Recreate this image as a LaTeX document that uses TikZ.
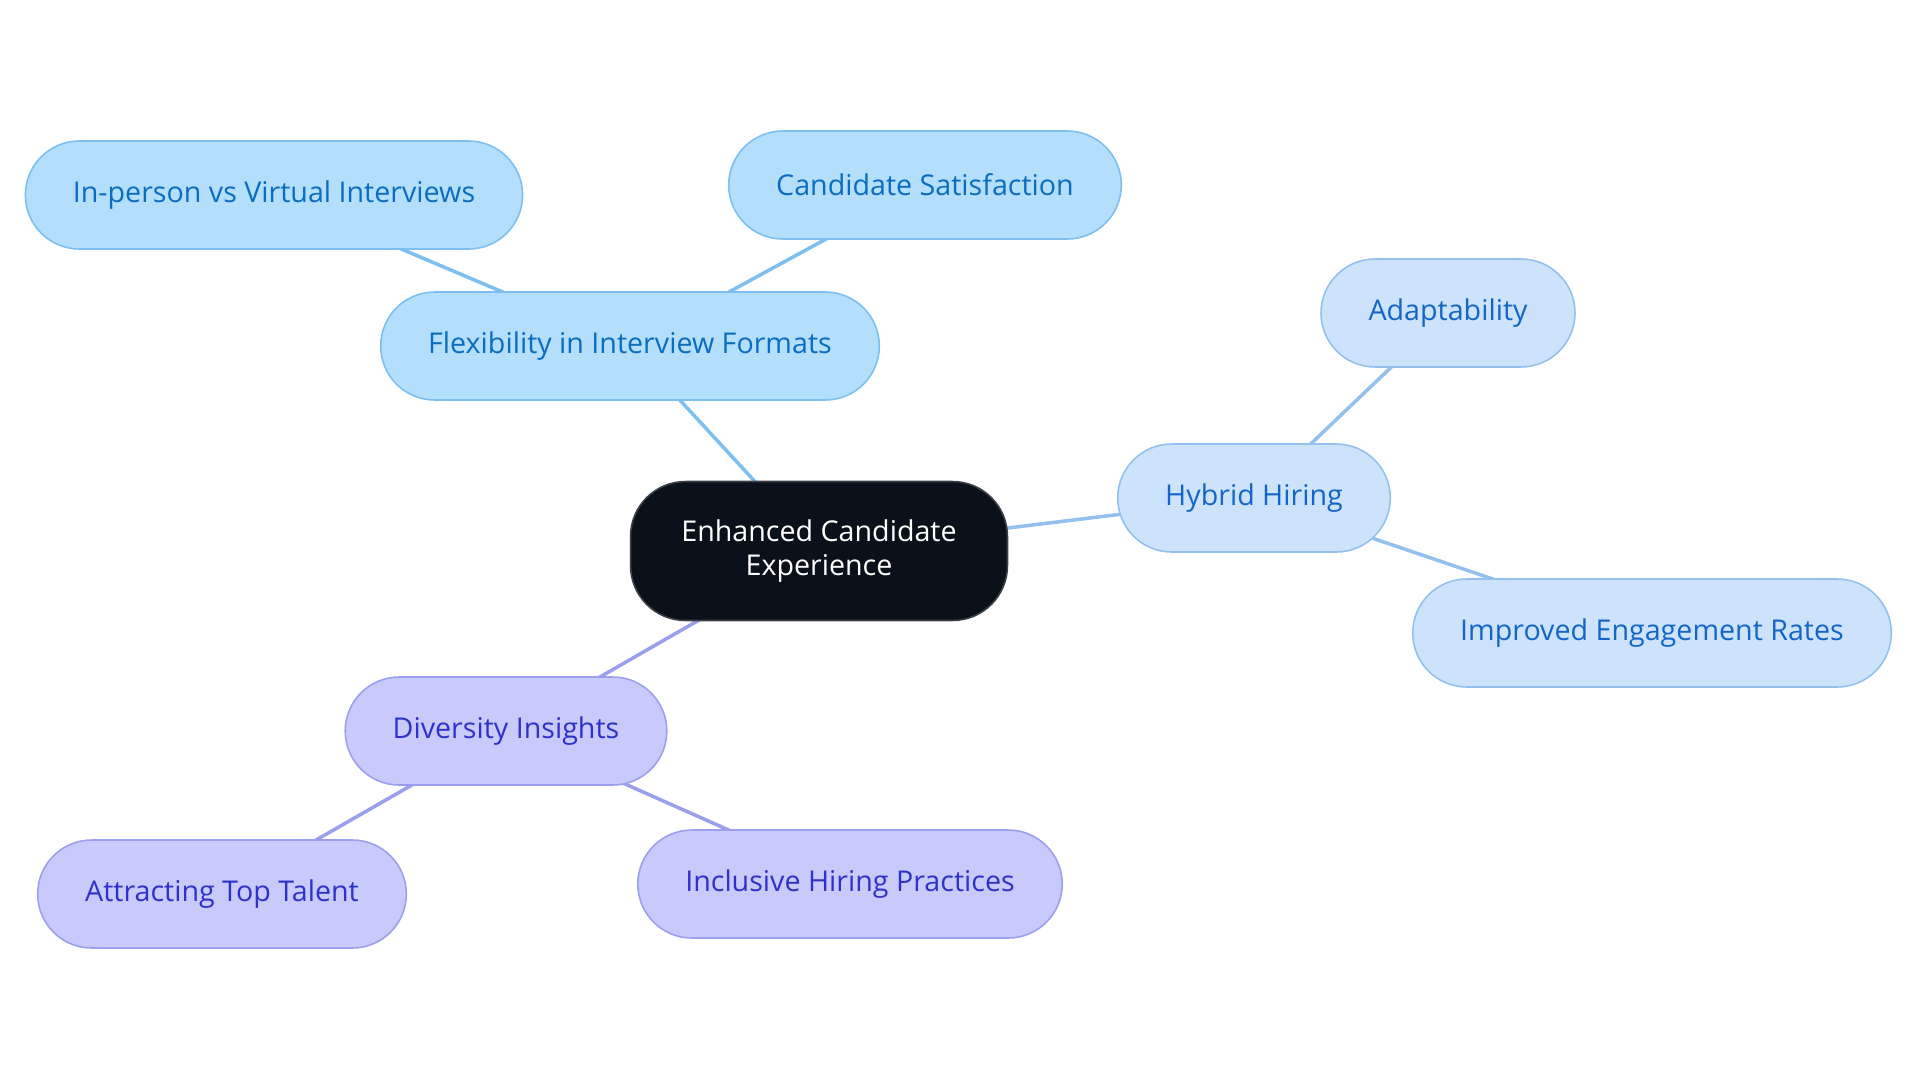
\documentclass[tikz,border=0pt]{standalone}
\usepackage{fontspec}
\setmainfont{Open Sans}
\usetikzlibrary{backgrounds}
\definecolor{rootfill}{HTML}{0B111A}
\definecolor{flexfill}{HTML}{B3DFFD}
\definecolor{flexline}{HTML}{7DBFF0}
\definecolor{flextext}{HTML}{0B6CC0}
\definecolor{hybfill}{HTML}{CCE3FB}
\definecolor{hybline}{HTML}{94C0EE}
\definecolor{hybtext}{HTML}{1565C8}
\definecolor{divfill}{HTML}{C8CAFC}
\definecolor{divline}{HTML}{9B9FEE}
\definecolor{divtext}{HTML}{2F32C8}
\tikzset{
  topic/.style={rectangle, rounded corners=1.08cm, minimum height=2.16cm,
    inner xsep=0.95cm, line width=0.9pt, font=\fontsize{16.3}{20}\selectfont},
  flexbox/.style={topic, fill=flexfill, draw=flexline, text=flextext},
  hybbox/.style={topic, fill=hybfill, draw=hybline, text=hybtext},
  divbox/.style={topic, fill=divfill, draw=divline, text=divtext},
  rootbox/.style={rectangle, rounded corners=1.1cm, minimum width=7.54cm,
    minimum height=2.78cm, fill=rootfill, draw=rootfill!80!white, line width=0.9pt,
    text=white, align=center, font=\fontsize{16.3}{19.5}\selectfont},
  link/.style={line width=2pt}
}
\begin{document}
\begin{tikzpicture}[x=0.02cm, y=-0.02cm]
  \useasboundingbox (0,0) rectangle (1920,1083);
  % centre
  \node[rootbox] (root) at (819,551) {Enhanced Candidate\\Experience};
  % flexibility branch
  \node[flexbox] (flex) at (630,346) {Flexibility in Interview Formats};
  \node[flexbox] (inperson) at (274,195) {In-person vs Virtual Interviews};
  \node[flexbox] (satis) at (925,185) {Candidate Satisfaction};
  % hybrid branch
  \node[hybbox] (hybrid) at (1254,498) {Hybrid Hiring};
  \node[hybbox] (adapt) at (1448,313) {Adaptability};
  \node[hybbox] (engage) at (1652,633) {Improved Engagement Rates};
  % diversity branch
  \node[divbox] (divers) at (506,731) {Diversity Insights};
  \node[divbox] (talent) at (222,894) {Attracting Top Talent};
  \node[divbox] (inclus) at (850,884) {Inclusive Hiring Practices};
  \begin{scope}[on background layer]
    \draw[link, flexline] (root.center) -- (flex.center);
    \draw[link, flexline] (flex.center) -- (inperson.center);
    \draw[link, flexline] (flex.center) -- (satis.center);
    \draw[link, hybline] (root.center) -- (hybrid.center);
    \draw[link, hybline] (hybrid.center) -- (adapt.center);
    \draw[link, hybline] (hybrid.center) -- (engage.center);
    \draw[link, divline] (root.center) -- (divers.center);
    \draw[link, divline] (divers.center) -- (talent.center);
    \draw[link, divline] (divers.center) -- (inclus.center);
  \end{scope}
\end{tikzpicture}
\end{document}
